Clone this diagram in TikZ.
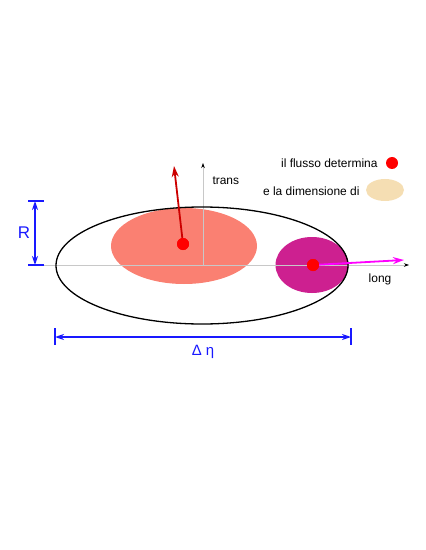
\documentclass[tikz,border=0pt]{standalone}
\usepackage{fontspec}
\setmainfont{Liberation Sans}
\usetikzlibrary{positioning}
\usetikzlibrary{arrows.meta}
\usetikzlibrary{shapes.geometric}
\definecolor{salmon}{RGB}{250,128,114}
\definecolor{violetred}{RGB}{205,32,144}
\definecolor{wheat}{RGB}{245,222,179}
\definecolor{darkred}{RGB}{204,0,0}
\definecolor{pink}{RGB}{255,0,255}
\definecolor{dimblue}{RGB}{25,25,255}
\definecolor{axisgray}{RGB}{200,200,200}

\begin{document}
\begin{tikzpicture}[x=1bp, y=-1bp,
    every node/.style={font=\fontsize{12}{14}\selectfont},
    blob/.style={ellipse, inner sep=0pt},
    dot/.style={circle, fill=red, inner sep=0pt, minimum size=12bp},
    axis/.style={axisgray, line width=0.6bp},
    axistip/.style={-{Stealth[length=5bp, width=3.5bp, black]}},
    flow/.style={line width=1.8bp, -{Stealth[length=11bp, width=7bp]}},
    dim/.style={dimblue, line width=1.5bp},
    dimarrow/.style={dim, {Stealth[length=9bp, width=6bp]}-{Stealth[length=9bp, width=6bp]}}]
    \useasboundingbox (0,0) rectangle (425,550);

    % sources inside the fireball
    \node[blob, fill=salmon, minimum width=146bp, minimum height=76bp] (core) at (184,246) {};
    \node[blob, fill=violetred, minimum width=73bp, minimum height=56bp] (jet) at (312,265) {};

    % axes
    \coordinate (origin) at (203,265);
    \coordinate (axl) at (44,265);
    \coordinate (axr) at (409,265);
    \coordinate (axt) at (203,163);
    \draw[axis] (axl) -- (origin);
    \draw[axis, axistip] (origin) -- (axr);
    \draw[axis, axistip] (origin) -- (axt);
    \node[anchor=west] (trans) at (209,181) {trans};
    \node (long) at (380,279) {long};

    \node[blob, draw, line width=1.3bp, minimum width=292bp, minimum height=117bp] (fireball) at (202,265.5) {};

    % velocities
    \node[dot] (coredot) at (183,244) {};
    \node[dot] (jetdot) at (313,265) {};
    \coordinate (coretip) at (174,166);
    \coordinate (jettip) at (404,260);
    \draw[flow, darkred] (coredot.center) -- (coretip);
    \draw[flow, pink] (jetdot.center) -- (jettip);
    \node[dot] at (coredot) {};
    \node[dot] at (jetdot) {};

    % legend
    \node[anchor=east] (flusso) at (381,163) {il flusso determina};
    \node[dot, right=11bp of flusso.east, anchor=center] (keydot) {};
    \node[anchor=east] (dimens) at (363,191) {e la dimensione di};
    \node[blob, fill=wheat, minimum width=38bp, minimum height=22bp] (keyblob) at (385,190) {};

    % R
    \coordinate (rtop) at (35,201);
    \coordinate (rbot) at (35,265);
    \foreach \y in {201,265} {
        \draw[dim] (28,\y) -- (44,\y);
    }
    \draw[dimarrow] (rbot) -- (rtop);
    \node[dimblue, font=\fontsize{17}{19}\selectfont] (rlabel) at (24,233) {R};

    % Delta eta
    \coordinate (dl) at (55,337);
    \coordinate (dr) at (351,337);
    \foreach \x in {55,351} {
        \draw[dim] (\x,328) -- (\x,345);
    }
    \draw[dimarrow] (dl) -- (dr);
    \node[dimblue, font=\fontsize{15}{17}\selectfont] (deta) at (203,352) {Δ η};
\end{tikzpicture}
\end{document}
